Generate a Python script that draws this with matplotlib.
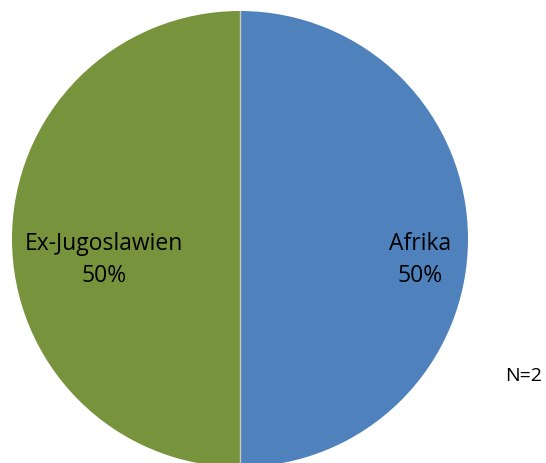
import matplotlib.pyplot as plt

regions = ["Afrika", "Ex-Jugoslawien"]
shares = [50, 50]
colors = ["#4F81BD", "#77933C"]
n_total = 2

fig = plt.figure(figsize=(5.46, 4.64), dpi=100)
ax = fig.add_axes([0, 0, 1, 1])
ax.set_xlim(0, 546)
ax.set_ylim(0, 464)
ax.set_aspect("equal")
ax.axis("off")

cx, cy, r = 240, 224, 228
wedges, _ = ax.pie(shares, colors=colors, startangle=90, counterclock=False,
                   center=(cx, cy), radius=r, wedgeprops=dict(linewidth=0))
# thin light divider between the slices
ax.plot([cx, cx], [cy - r, cy + r], color="#c8c8c8", lw=1)
ax.set_xlim(0, 546)
ax.set_ylim(0, 464)

font = ["Open Sans", "DejaVu Sans"]
label_pos = [(420, 204), (104, 204)]
for name, val, (x, y) in zip(regions, shares, label_pos):
    ax.text(x, y, f"{name}\n{val}%", ha="center", va="center",
            fontsize=16.5, family=font, linespacing=1.45)

ax.text(524, 88, f"N={n_total}", ha="center", va="center", fontsize=14, family=font)

fig.savefig("out.png", dpi=100)
